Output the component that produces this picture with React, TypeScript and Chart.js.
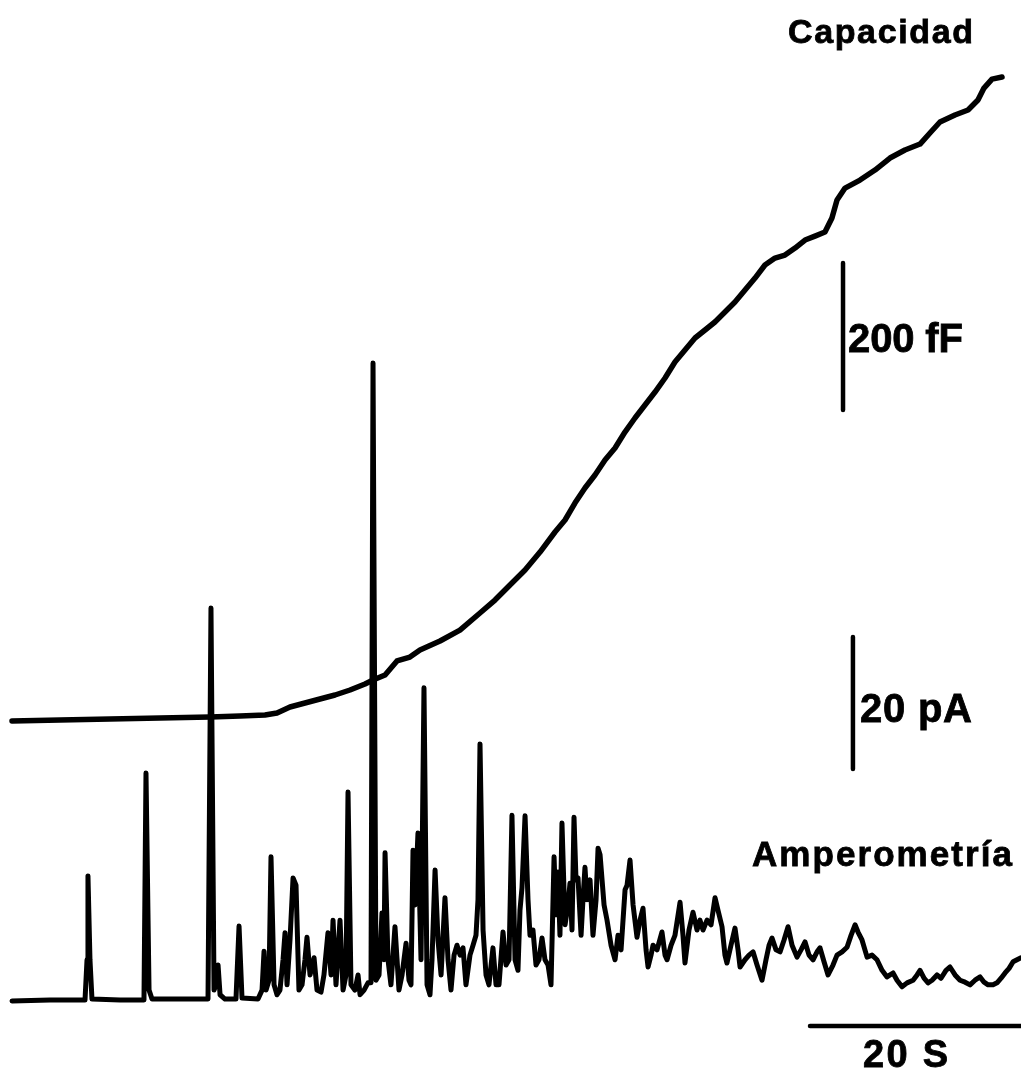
import { useEffect, useRef } from "react";
import { Chart, registerables } from "chart.js";

Chart.register(...registerables);

// ---- Capacitance trace (time in s, capacitance in fF, baseline = 0) ----
const capTime = [
  0.19, 4.74, 9.48, 14.22, 18.96, 21.8, 24.17, 25.31, 26.54, 27.96, 29.38, 30.81, 32.23, 33.65,
  34.41, 35.55, 36.68, 37.91, 38.86, 40.76, 42.65, 44.55, 45.97, 47.39, 48.82, 50.24, 51.66,
  52.61, 53.55, 54.5, 55.45, 56.4, 57.35, 58.29, 59.24, 60.19, 61.14, 62.09, 63.03, 63.98, 64.93,
  65.88, 66.82, 67.77, 68.72, 69.67, 70.62, 71.56, 72.51, 73.46, 74.41, 75.36, 76.3, 77.25,
  77.91, 78.39, 79.15, 80.57, 81.99, 83.41, 84.83, 86.26, 87.2, 88.15, 89.57, 90.81, 91.75,
  92.32, 93.08, 94.03,
];
const capFF = [
  -4.1, -2.7, -1.4, 0, 1.4, 2.7, 4.1, 6.8, 15.0, 20.4, 25.9, 31.3, 38.1, 46.3, 51.7, 58.5, 77.6,
  83.0, 92.5, 104.8, 119.7, 142.9, 160.5, 180.9, 201.4, 225.8, 253.1, 269.4, 292.5, 312.9, 330.6,
  351.0, 367.3, 389.1, 408.2, 425.8, 443.5, 462.6, 484.3, 500.7, 517.0, 527.9, 538.8, 552.4,
  566.0, 582.3, 598.6, 616.3, 625.8, 629.9, 639.4, 650.3, 655.7, 661.2, 680.2, 704.7, 721.0,
  731.9, 745.5, 761.9, 772.8, 780.9, 795.9, 810.9, 820.4, 827.2, 840.8, 857.1, 869.3, 872.1,
];

// ---- Amperometric trace (time in s, current in pA, baseline = 0) ----
const ampTime = [
  0.19, 3.79, 7.11, 7.3, 7.39, 7.58, 7.77, 10.43, 12.7, 12.89, 13.18, 13.46, 16.11, 18.77, 19.05,
  19.34, 19.53, 19.72, 19.91, 20.38, 21.42, 21.71, 21.99, 23.51, 23.89, 24.08, 24.27, 24.55,
  24.74, 25.03, 25.31, 25.59, 25.88, 26.07, 26.26, 26.54, 26.83, 27.11, 27.39, 27.68, 27.96,
  28.15, 28.44, 28.82, 29.1, 29.48, 29.76, 30.14, 30.43, 30.62, 30.9, 31.28, 31.57, 31.85,
  32.04, 32.32, 32.7, 32.99, 33.18, 33.56, 33.93, 34.22, 34.41, 34.69, 34.98, 35.26, 35.45,
  35.55, 35.83, 36.11, 36.49, 36.87, 37.16, 37.54, 37.82, 38.01, 38.2, 38.39, 38.67, 38.96,
  39.24, 39.53, 39.81, 40.0, 40.29, 40.57, 40.86, 41.23, 41.52, 41.8, 42.09, 42.37, 42.66,
  42.94, 43.22, 43.6, 43.89, 44.17, 44.36, 44.55, 44.84, 45.12, 45.4, 45.78, 46.07, 46.35,
  46.73, 47.02, 47.3, 47.58, 47.87, 48.15, 48.34, 48.53, 48.82, 49.1, 49.29, 49.57, 49.86,
  50.14, 50.43, 50.71, 51.0, 51.28, 51.57, 51.75, 51.94, 52.13, 52.32, 52.61, 52.89, 53.08,
  53.27, 53.46, 53.65, 53.84, 54.13, 54.31, 54.5, 54.69, 54.98, 55.26, 55.55, 55.74, 55.93,
  56.31, 56.59, 56.97, 57.35, 57.63, 57.92, 58.3, 58.49, 58.77, 59.06, 59.43, 59.72, 60.0,
  60.29, 60.48, 60.76, 60.95, 61.33, 61.8, 62.09, 62.28, 62.66, 63.03, 63.51, 63.79, 63.98,
  64.36, 64.74, 65.12, 65.4, 65.69, 66.07, 66.45, 66.83, 67.11, 67.49, 67.77, 67.96, 68.34,
  68.72, 69.01, 69.2, 69.67, 70.05, 70.43, 70.81, 71.28, 71.66, 71.95, 72.23, 72.61, 72.99,
  73.37, 73.75, 74.13, 74.6, 74.98, 75.36, 75.74, 76.12, 76.5, 76.78, 77.16, 77.54, 78.01,
  78.39, 78.87, 79.34, 79.72, 80.1, 80.38, 80.76, 81.24, 81.71, 82.18, 82.66, 83.13, 83.42,
  83.7, 84.08, 84.55, 85.03, 85.6, 85.98, 86.26, 86.64, 87.02, 87.4, 87.87, 88.25, 88.72, 89.1,
  89.58, 90.05, 90.53, 91.0, 91.47, 91.95, 92.33, 92.71, 93.18, 93.56, 93.94, 94.32, 94.7,
  95.08, 95.45, 95.83,
];
const ampPA = [
  -0.15, 0, 0, 6.1, 18.8, 6.1, 0.15, 0, 0, 34.4, 1.5, 0.15, 0.15, 0.15, 59.4, 1.5, 2.3, 5.3, 0.8,
  0.15, 0.15, 11.2, 0.3, 0.15, 1.5, 7.4, 1.5, 3.0, 21.7, 2.3, 0.8, 1.5, 6.1, 10.2, 2.3, 9.1, 18.5,
  17.4, 1.5, 2.3, 6.1, 9.5, 3.8, 6.4, 1.5, 1.2, 3.8, 10.2, 3.8, 12.1, 2.3, 12.1, 1.5, 3.8, 31.5,
  2.3, 1.5, 3.8, 0.8, 1.5, 2.6, 2.6, 96.5, 3.0, 3.8, 13.2, 6.1, 22.3, 6.1, 2.3, 11.1, 1.5, 3.8,
  8.6, 3.0, 2.3, 22.7, 14.4, 25.3, 6.1, 47.3, 2.3, 0.8, 6.1, 19.7, 9.1, 3.8, 15.5, 6.1, 1.5, 6.8,
  8.3, 6.8, 7.9, 2.3, 6.8, 8.3, 9.8, 15.2, 38.8, 10.6, 3.8, 2.3, 7.9, 2.3, 2.3, 10.3, 5.3, 6.1,
  28.0, 6.1, 4.5, 13.6, 17.0, 27.9, 15.2, 9.8, 10.6, 5.3, 6.1, 9.4, 6.1, 5.3, 2.3, 21.7, 12.9,
  19.4, 9.8, 26.8, 11.4, 14.4, 17.7, 10.6, 27.7, 18.2, 18.5, 9.8, 15.2, 20.1, 15.2, 18.2, 9.8,
  15.2, 23.0, 22.0, 14.4, 12.1, 8.3, 6.1, 9.8, 7.6, 16.7, 17.4, 21.2, 14.4, 9.5, 12.1, 13.9, 7.6,
  5.0, 6.8, 8.3, 7.6, 10.3, 6.8, 6.1, 8.3, 9.8, 14.8, 9.8, 5.6, 10.6, 13.3, 10.6, 12.1, 10.6,
  12.1, 11.4, 15.5, 13.6, 11.1, 6.8, 5.6, 8.3, 10.9, 7.6, 5.0, 6.1, 6.8, 7.3, 5.3, 3.0, 6.1, 8.3,
  9.4, 7.6, 7.3, 9.1, 11.1, 8.3, 6.5, 7.6, 8.8, 6.8, 6.1, 7.3, 7.9, 5.8, 3.8, 5.3, 6.8, 7.3, 8.0,
  9.8, 11.4, 10.3, 9.1, 6.5, 6.8, 6.1, 4.5, 3.5, 3.8, 4.1, 3.0, 2.0, 2.6, 3.0, 3.8, 4.5, 3.3, 2.6,
  3.0, 3.8, 3.3, 4.5, 5.0, 3.8, 3.0, 2.7, 2.3, 3.0, 3.5, 2.7, 2.3, 2.3, 2.6, 3.3, 4.1, 4.8, 5.8,
  6.1, 6.4,
];

// ---- Scale bars ----
const barFF = [419, 619]; // 200 fF
const barFFTime = 78.96;
const barPA = [35, 55]; // 20 pA
const barPATime = 79.9;
const barSeconds = [75.83, 95.83]; // 20 s
const barSecondsLevel = -3.94;

const textCap = "Capacidad";
const textAmp = "Amperometría";
const textFF = "200 fF";
const textPA = "20 pA";
const textS = "20 S";

const W = 1021;
const H = 1075;

export default function App() {
  const ref = useRef<HTMLCanvasElement>(null);

  useEffect(() => {
    const canvas = ref.current;
    if (!canvas) return;

    const labelPlugin = {
      id: "labelPlugin",
      afterDatasetsDraw(chart: any) {
        const c = chart.ctx as CanvasRenderingContext2D;
        const put = (text: string, x: number, y: number, size: number, width: number) => {
          c.save();
          c.font = `bold ${size}px "Liberation Sans", Arial, sans-serif`;
          c.fillStyle = "#000";
          c.strokeStyle = "#000";
          c.lineWidth = 0.8;
          c.textAlign = "left";
          c.textBaseline = "alphabetic";
          (c as any).letterSpacing = "0px";
          const w = c.measureText(text).width;
          const n = Array.from(text).length;
          const sp = n > 1 ? (width - w) / (n - 1) : 0;
          (c as any).letterSpacing = `${sp.toFixed(2)}px`;
          c.fillText(text, x, y);
          c.strokeText(text, x, y);
          c.restore();
        };
        put(textCap, 788, 43, 34, 185);
        put(textAmp, 752, 866, 35, 260);
        put(textFF, 848, 352, 40, 115);
        put(textPA, 860, 722, 40, 112);
        put(textS, 863, 1067, 38, 85);
      },
    };

    const line = {
      borderColor: "#000",
      pointRadius: 0,
      tension: 0,
      fill: false,
      borderJoinStyle: "round" as const,
      borderCapStyle: "round" as const,
    };

    const chart = new Chart(canvas, {
      type: "line",
      data: {
        datasets: [
          {
            ...line,
            label: "Capacidad",
            yAxisID: "yC",
            borderWidth: 5.5,
            data: capTime.map((t, i) => ({ x: t, y: capFF[i] })),
          },
          {
            ...line,
            label: "Amperometría",
            yAxisID: "yA",
            borderWidth: 5,
            data: ampTime.map((t, i) => ({ x: t, y: ampPA[i] })),
          },
          {
            ...line,
            label: "200 fF",
            yAxisID: "yC",
            borderWidth: 4.5,
            data: barFF.map((v) => ({ x: barFFTime, y: v })),
          },
          {
            ...line,
            label: "20 pA",
            yAxisID: "yA",
            borderWidth: 4.5,
            data: barPA.map((v) => ({ x: barPATime, y: v })),
          },
          {
            ...line,
            label: "20 s",
            yAxisID: "yA",
            borderWidth: 4.5,
            data: barSeconds.map((t) => ({ x: t, y: barSecondsLevel })),
          },
        ],
      },
      options: {
        animation: false,
        responsive: false,
        maintainAspectRatio: false,
        layout: { padding: 0 },
        plugins: {
          legend: { display: false },
          title: { display: false },
          tooltip: { enabled: false },
        },
        scales: {
          x: { type: "linear", min: -0.948, max: 95.83, display: false },
          yC: { type: "linear", min: -485.7, max: 976.9, display: false },
          yA: { type: "linear", min: -11.36, max: 151.5, display: false },
        },
      },
      plugins: [labelPlugin],
    });

    return () => chart.destroy();
  }, []);

  return (
    <div style={{ position: "fixed", left: 0, top: 0, width: W, height: H, background: "#fff" }}>
      <canvas ref={ref} width={W} height={H} style={{ display: "block" }} />
    </div>
  );
}
